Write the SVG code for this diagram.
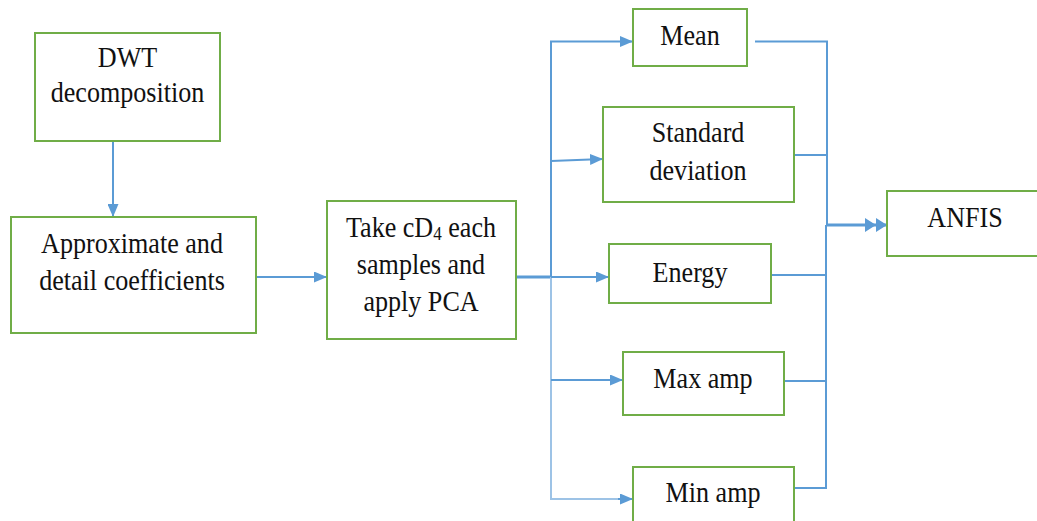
<svg xmlns="http://www.w3.org/2000/svg" width="1037" height="521" viewBox="0 0 1037 521">
  <style>
    .box { fill: #ffffff; stroke: #70AD47; stroke-width: 2; }
    .lbl { font-size: 29px; fill: #111111; text-anchor: middle; }
    .wire { fill: none; stroke: #5B9BD5; stroke-width: 2; }
    .wire-lt { fill: none; stroke: #9DC3E6; stroke-width: 2; }
    .thick { fill: none; stroke: #5B9BD5; stroke-width: 3; }
  </style>
  <defs>
    <marker id="arr" markerUnits="userSpaceOnUse" markerWidth="13" markerHeight="11" refX="13" refY="5.5" orient="auto">
      <path d="M0,0 L13,5.5 L0,11 z" fill="#5B9BD5"/>
    </marker>
    <marker id="arr2" markerUnits="userSpaceOnUse" markerWidth="22" markerHeight="14" refX="22" refY="7" orient="auto">
      <path d="M0,0 L11,7 L0,14 z M11,0 L22,7 L11,14 z" fill="#5B9BD5"/>
    </marker>
  </defs>
  <rect width="1037" height="521" fill="#ffffff"/>

  <!-- connectors -->
  <g id="connectors">
    <path class="wire" d="M113,141 V217" marker-end="url(#arr)"/>
    <path class="wire" d="M256,277 H327" marker-end="url(#arr)"/>
    <path class="thick" d="M516,277 H551"/>
    <path class="wire" d="M551,277 V41.5 H633" marker-end="url(#arr)"/>
    <path class="wire-lt" d="M551,277 V499 H620"/>
    <path class="wire" d="M618,499 H633" marker-end="url(#arr)"/>
    <path class="wire" d="M551,161 L603,159" marker-end="url(#arr)"/>
    <path class="wire" d="M551,277 H609" marker-end="url(#arr)"/>
    <path class="wire" d="M551,380 H623" marker-end="url(#arr)"/>
    <path class="wire" d="M755,41.5 H827 V225"/>
    <path class="wire" d="M794,155 H827"/>
    <path class="wire" d="M771,275 H826"/>
    <path class="wire" d="M784,381 H826"/>
    <path class="wire" d="M794,488 H826 V225"/>
    <path class="thick" d="M826,225 H887" marker-end="url(#arr2)"/>
  </g>

  <!-- labels are set in a slightly condensed serif -->
  <g font-family="'Liberation Serif', 'Times New Roman', 'DejaVu Serif', serif">
  <g id="dwt">
    <rect class="box" x="35" y="33" width="185" height="108"/>
    <text class="lbl" transform="translate(127.5,67) scale(0.9,1)" font-size="28">DWT</text>
    <text class="lbl" transform="translate(127.5,102) scale(0.9,1)" font-size="27">decomposition</text>
  </g>

  <g id="coefficients">
    <rect class="box" x="11" y="217" width="245" height="116"/>
    <text class="lbl" transform="translate(132,253) scale(0.9,1)">Approximate and</text>
    <text class="lbl" transform="translate(132,290) scale(0.9,1)">detail coefficients</text>
  </g>

  <g id="pca">
    <rect class="box" x="327" y="201" width="189" height="138"/>
    <text class="lbl" transform="translate(421,237) scale(0.9,1)">Take cD<tspan font-size="19" dy="3">4</tspan><tspan dy="-3"> each</tspan></text>
    <text class="lbl" transform="translate(421,274) scale(0.9,1)">samples and</text>
    <text class="lbl" transform="translate(421,311) scale(0.9,1)">apply PCA</text>
  </g>

  <g id="mean">
    <rect class="box" x="633" y="9" width="114" height="57"/>
    <text class="lbl" transform="translate(690,45) scale(0.9,1)">Mean</text>
  </g>

  <g id="std">
    <rect class="box" x="603" y="107" width="191" height="95"/>
    <text class="lbl" transform="translate(698,142) scale(0.9,1)">Standard</text>
    <text class="lbl" transform="translate(698,180) scale(0.9,1)">deviation</text>
  </g>

  <g id="energy">
    <rect class="box" x="609" y="244" width="162" height="59"/>
    <text class="lbl" transform="translate(690,282) scale(0.9,1)">Energy</text>
  </g>

  <g id="maxamp">
    <rect class="box" x="623" y="352" width="161" height="63"/>
    <text class="lbl" transform="translate(703,388) scale(0.9,1)">Max amp</text>
  </g>

  <g id="minamp">
    <rect class="box" x="633" y="467" width="161" height="62"/>
    <text class="lbl" transform="translate(713,502) scale(0.9,1)">Min amp</text>
  </g>

  <g id="anfis">
    <rect class="box" x="887" y="191" width="156" height="65"/>
    <text class="lbl" transform="translate(965,227) scale(0.9,1)">ANFIS</text>
  </g>
  </g>
</svg>
